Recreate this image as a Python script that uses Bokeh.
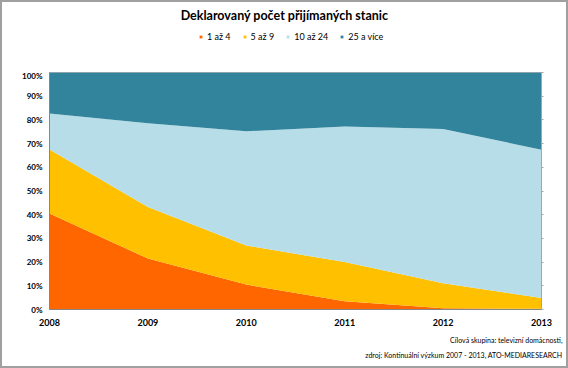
from bokeh.plotting import figure
from bokeh.layouts import column
from bokeh.models import (ColumnDataSource, Range1d, FixedTicker, PrintfTickFormatter,
                          Legend, LegendItem, Label, LinearAxis, Title)
from bokeh.embed import file_html
from bokeh.resources import INLINE

years = [2008, 2009, 2010, 2011, 2012, 2013]
s1 = [40.5, 21.5, 10.5, 3.5, 0.5, 0.3]
s2 = [27.0, 21.7, 16.5, 16.5, 10.6, 4.5]
s3 = [15.2, 35.4, 48.2, 57.2, 65.1, 62.6]
s4 = [17.3, 21.4, 24.8, 22.8, 23.8, 32.6]
names = ["1 až 4", "5 až 9", "10 až 24", "25 a více"]
colors = ["#FF6600", "#FFC000", "#B7DEE8", "#31849B"]
y_ticks = list(range(0, 101, 10))
title_text = "Deklarovaný počet přijímaných stanic"
note1 = "Cílová skupina: televizní domácnosti,"
note2 = "zdroj: Kontinuální výzkum 2007 - 2013, ATO-MEDIARESEARCH"

FONT = "Lato"
W = 564
BL, BR = 47, 25
H_TOP = 68
H_MAIN = 364 - H_TOP

# ---- top: title and legend (frame shares the main chart's left/right borders) ----
top = figure(width=W, height=H_TOP, output_backend="svg", toolbar_location=None,
             x_range=Range1d(BL, W - BR), y_range=Range1d(H_TOP, 0),
             min_border_left=BL, min_border_right=BR, min_border_top=0, min_border_bottom=0,
             x_axis_type=None, y_axis_type=None)
top.grid.visible = False
top.outline_line_color = None
top.add_layout(Label(x=282, y=13, text=title_text, text_align="center",
                     text_baseline="middle", text_font=FONT, text_font_style="bold",
                     text_font_size="12.5px", text_color="#000000"))
dummies = [top.scatter(x=[-1e6], y=[-1e6], marker="square", size=7, color=c,
                       line_color=None) for c in colors]
legend = Legend(items=[LegendItem(label=n, renderers=[r]) for n, r in zip(names, dummies)],
                orientation="horizontal", location=(195 - BL, 28),
                glyph_width=7, glyph_height=7, label_height=10, label_standoff=3,
                spacing=10, padding=0, margin=0, border_line_alpha=0,
                background_fill_alpha=0, label_text_font=FONT,
                label_text_font_size="9px", label_text_color="#000000")
top.add_layout(legend, "center")

# ---- main chart ----
keys = ["s1", "s2", "s3", "s4"]
source = ColumnDataSource(dict(x=years, s1=s1, s2=s2, s3=s3, s4=s4))
p = figure(width=W, height=H_MAIN, output_backend="svg", toolbar_location=None,
           x_range=Range1d(2008, 2013), y_range=Range1d(0, 100),
           x_axis_type=None, y_axis_type=None,
           min_border_left=BL, min_border_right=BR, min_border_top=2,
           min_border_bottom=H_MAIN - 2 - 237)
p.grid.visible = False
p.outline_line_color = "#b0b0b0"
p.outline_line_width = 1
p.varea_stack(keys, x="x", color=colors, source=source)

ax_b = LinearAxis(ticker=FixedTicker(ticks=years))
ax_b.axis_line_color = "#868686"
ax_b.major_tick_line_color = None
ax_b.minor_tick_line_color = None
ax_b.major_label_text_font = FONT
ax_b.major_label_text_font_style = "bold"
ax_b.major_label_text_font_size = "9px"
ax_b.major_label_text_color = "#000000"
ax_b.major_label_standoff = 3
p.add_layout(ax_b, "below")

ax_l = LinearAxis(ticker=FixedTicker(ticks=y_ticks), formatter=PrintfTickFormatter(format="%d%%"))
ax_l.axis_line_color = "#868686"
ax_l.major_tick_line_color = None
ax_l.minor_tick_line_color = None
ax_l.major_label_text_font = FONT
ax_l.major_label_text_font_style = "bold"
ax_l.major_label_text_font_size = "8px"
ax_l.major_label_text_color = "#000000"
ax_l.major_label_standoff = 1
p.add_layout(ax_l, "left")

ax_r = LinearAxis(ticker=FixedTicker(ticks=y_ticks))
ax_r.axis_line_color = "#a6a6a6"
ax_r.major_tick_line_color = "#a6a6a6"
ax_r.major_tick_out = 2
ax_r.major_tick_in = 0
ax_r.minor_tick_line_color = None
ax_r.major_label_text_alpha = 0
ax_r.major_label_text_font_size = "1px"
p.add_layout(ax_r, "right")

# source notes under the x axis, right aligned beyond the plot frame
for txt, so in [(note1, 10), (note2, 0)]:
    p.add_layout(Title(text=txt, align="right", offset=-21, standoff=so,
                       text_font=FONT, text_font_size="7px", text_font_style="normal",
                       text_color="#000000"), "below")

layout = column(top, p, spacing=0,
                styles={"border": "2px solid #a0a0a0", "background-color": "#ffffff"})

open("out.html", "w").write(file_html(layout, INLINE))
